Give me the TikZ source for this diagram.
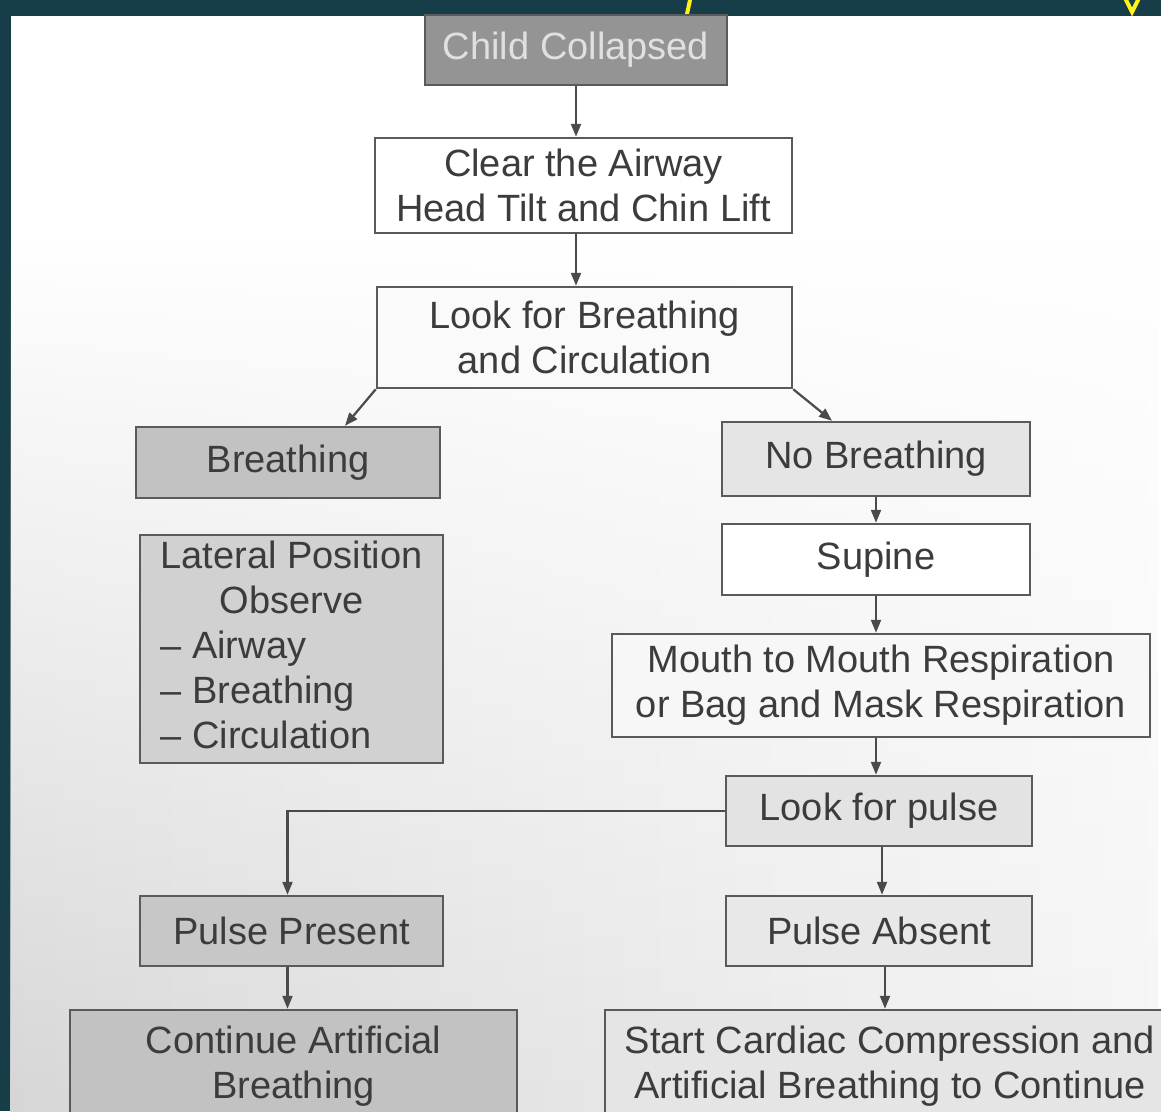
\documentclass[tikz,border=0pt]{standalone}
\usepackage{fontspec}
\setmainfont{Liberation Sans}
\usetikzlibrary{arrows.meta,fadings}
\definecolor{teal}{HTML}{173D48}
\definecolor{bordergray}{HTML}{5A5A5A}
\definecolor{txtgray}{HTML}{3C3C3C}
\definecolor{linegray}{HTML}{4A4A4A}
\tikzfading[name=fadetop, top color=transparent!100, bottom color=transparent!0]
\begin{document}
\begin{tikzpicture}[x=1pt,y=-1pt,
  box/.style={draw=bordergray, line width=2.5pt, align=center, inner sep=0pt,
    font=\fontsize{38}{45}\selectfont, text=txtgray},
  conn/.style={draw=linegray, line width=2.2pt, -{Triangle[length=13pt,width=10pt]}}]
\clip (0,0) rectangle (1161,1111);
% background: photo border and paper
\fill[teal] (0,0) rectangle (1161,1111);
\fill[white] (11,16) rectangle (1161,1111);
\shade[left color=black!16, right color=black!4, path fading=fadetop] (11,240) rectangle (1161,1111);
\draw[yellow!90!white, line width=4pt, line cap=round] (690,0) -- (687,14);
\draw[yellow!90!white, line width=4pt, line cap=round] (1126,0) -- (1132,12) -- (1138,0);
% nodes
\node[box, fill=black!42, text=black!12, minimum width=302pt, minimum height=70pt] (cc) at (576,50) {Child Collapsed};
\node[box, fill=white, minimum width=417pt, minimum height=95pt] (clear) at (583.5,185.5) {Clear the Airway\\Head Tilt and Chin Lift};
\node[box, fill=black!2, minimum width=415pt, minimum height=101pt] (look) at (584.5,337.5) {Look for Breathing\\and Circulation};
\node[box, fill=black!24, minimum width=304pt, minimum height=71pt] (br) at (288,462.5) {Breathing};
\node[box, fill=black!18, minimum width=303pt, minimum height=228pt] (lat) at (291.5,649) {\begin{tabular}{@{}l@{}}\multicolumn{1}{@{}c@{}}{Lateral Position}\\\multicolumn{1}{@{}c@{}}{Observe}\\-- Airway\\-- Breathing\\-- Circulation\end{tabular}};
\node[box, fill=black!10, minimum width=308pt, minimum height=74pt] (nb) at (876,459) {No Breathing};
\node[box, fill=white, minimum width=308pt, minimum height=71pt] (sup) at (876,559.5) {Supine};
\node[box, fill=black!3, minimum width=538pt, minimum height=103pt] (mm) at (881,685.5) {Mouth to Mouth Respiration\\or Bag and Mask Respiration};
\node[box, fill=black!11, minimum width=306pt, minimum height=70pt] (lp) at (879,811) {Look for pulse};
\node[box, fill=black!22, minimum width=303pt, minimum height=70pt] (pp) at (291.5,931) {Pulse Present};
\node[box, fill=black!9, minimum width=306pt, minimum height=70pt] (pa) at (879,931) {Pulse Absent};
\node[box, fill=black!24, minimum width=447pt, minimum height=112pt] (cont) at (293.5,1066) {Continue Artificial\\Breathing};
\node[box, fill=black!10, minimum width=570pt, minimum height=112pt] (start) at (890,1066) {Start Cardiac Compression and\\Artificial Breathing to Continue};
% connectors
\draw[conn] (cc.south) -- (clear.north -| cc.south);
\draw[conn] (clear.south -| cc.south) -- (look.north -| cc.south);
\draw[conn] (look.south west) -- ([xshift=57pt]br.north);
\draw[conn] (look.south east) -- ([xshift=-44pt]nb.north);
\draw[conn] (nb.south) -- (sup.north);
\draw[conn] (sup.south) -- (sup.south |- mm.north);
\draw[conn] (sup.south |- mm.south) -- (sup.south |- lp.north);
\coordinate (bend) at ([xshift=-4pt]pp.north |- lp.west);
\draw[conn] (lp.west) -- (bend) -- ([xshift=-4pt]pp.north);
\draw[conn] ([xshift=3pt]lp.south) -- ([xshift=3pt]pa.north);
\draw[conn] ([xshift=-4pt]pp.south) -- ([xshift=-4pt]pp.south |- cont.north);
\draw[conn] ([xshift=6pt]pa.south) -- ([xshift=6pt]pa.south |- start.north);
\end{tikzpicture}
\end{document}
